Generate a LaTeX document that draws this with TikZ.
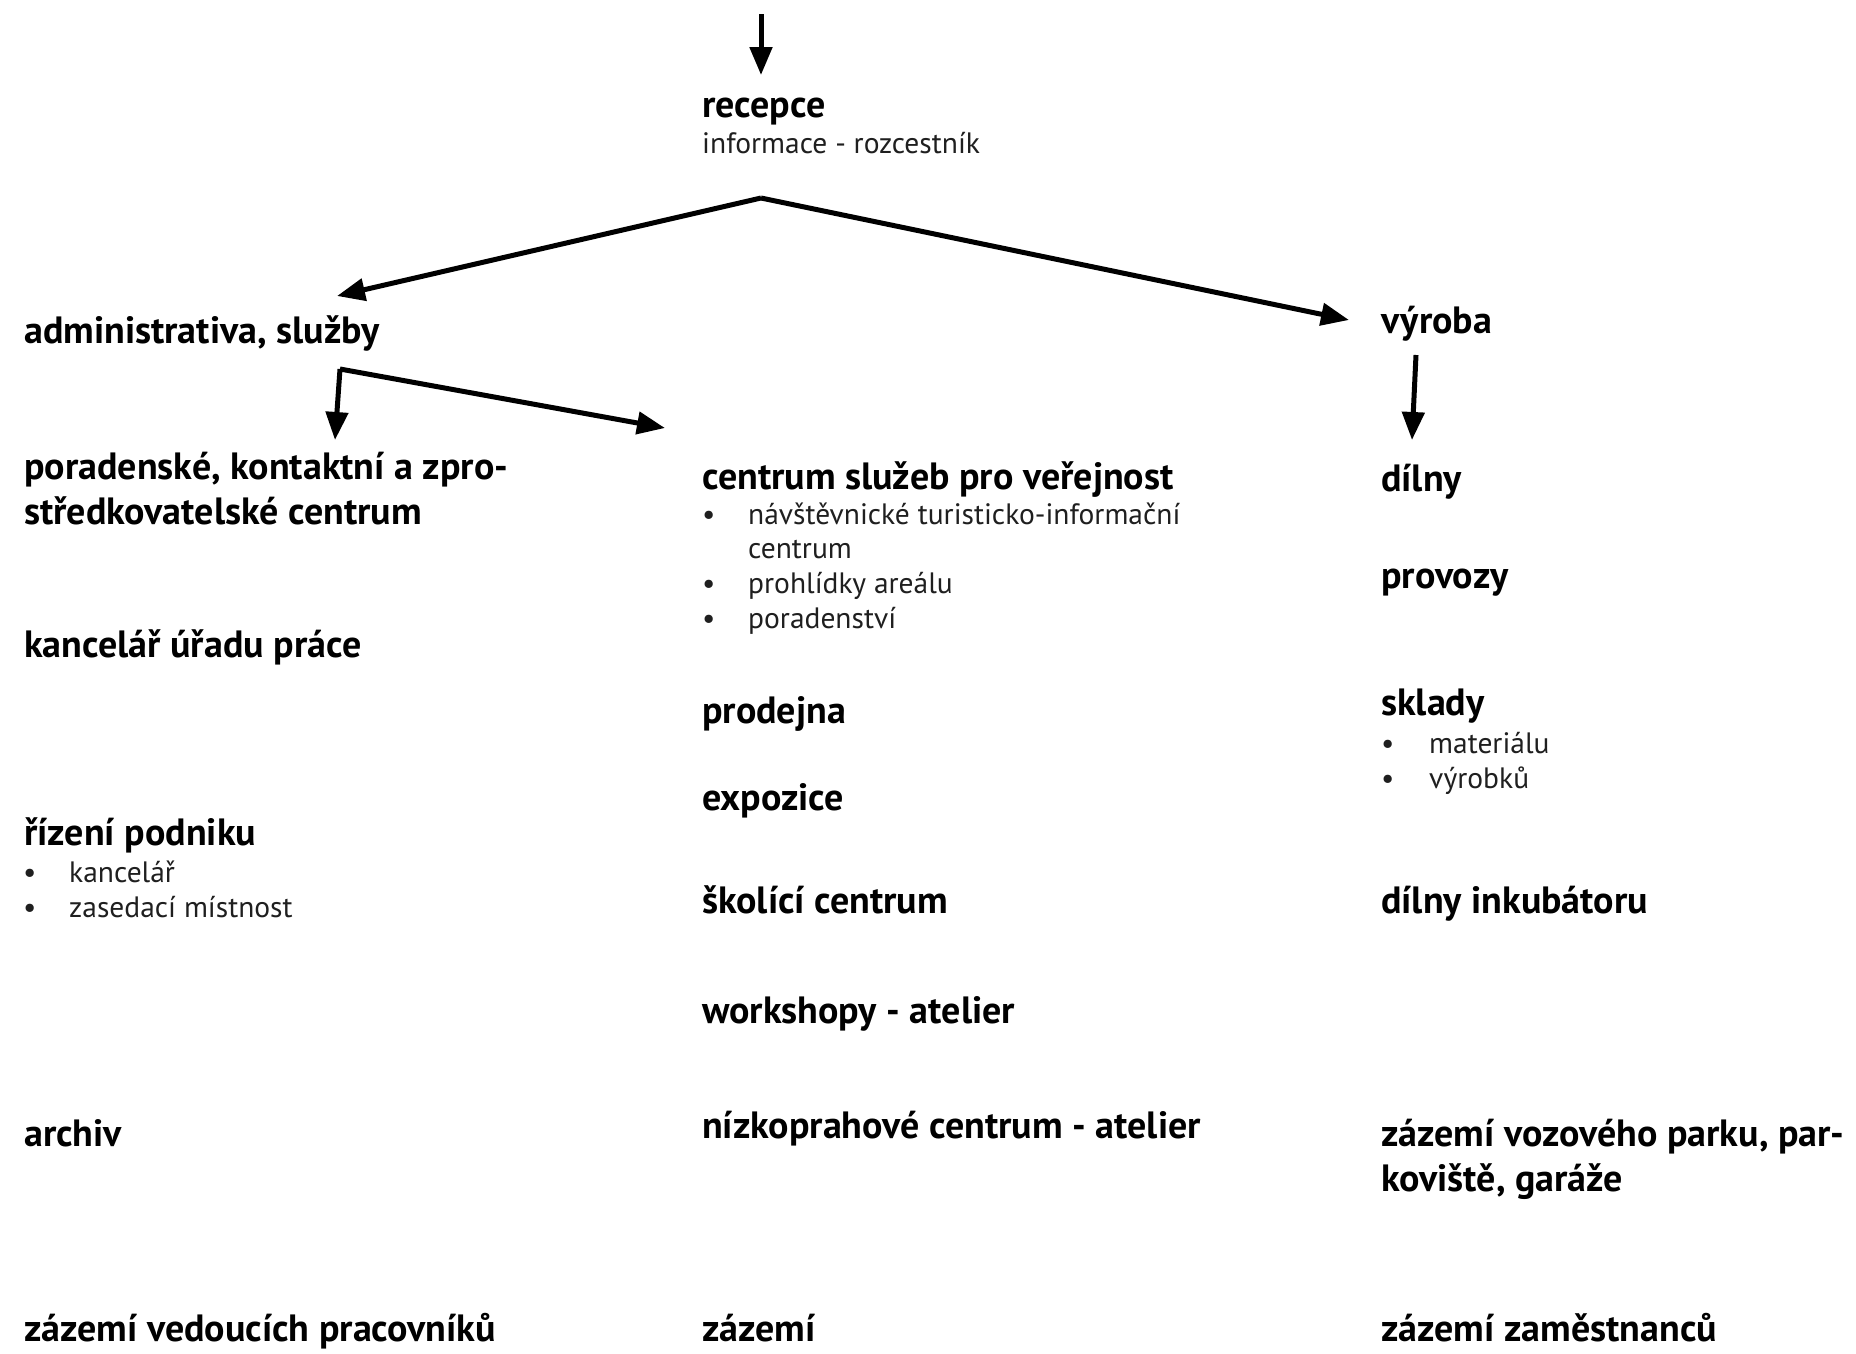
\documentclass[tikz,border=0pt]{standalone}
\usepackage{fontspec}
\setmainfont{PT Sans}
\usetikzlibrary{arrows.meta}
\begin{document}
\begin{tikzpicture}[x=1pt,y=-1pt,
  head/.style={anchor=base west,inner sep=0pt,font=\fontsize{38}{44}\selectfont\bfseries,text=black},
  body/.style={anchor=base west,inner sep=0pt,font=\fontsize{29.5}{34}\selectfont,text=black!88},
  bul/.style={anchor=base west,inner sep=0pt,font=\fontsize{29.5}{34}\selectfont,text=black!88},
  arr/.style={line width=5pt,-{Triangle[length=28pt,width=22pt]}},
  ]
\useasboundingbox (0,0) rectangle (1856,1353);
% coordinates
\coordinate (topstart) at (761,14);
\coordinate (topend) at (761,75);
\coordinate (apex) at (761,198);
\coordinate (admtip) at (337,296);
\coordinate (vyrtip) at (1349,320);
\coordinate (admapex) at (340,369);
\coordinate (poradtip) at (335,440);
\coordinate (centtip) at (665,428);
\coordinate (vyrstart) at (1416,355);
\coordinate (dilnytip) at (1412,440);
% column 1
\node[head] (admin) at (24,343) {administrativa, služby};
\node[head] (porad1) at (24,479) {poradenské, kontaktní a zpro-};
\node[head] (porad2) at (24,524) {středkovatelské centrum};
\node[head] (kanc) at (24,657) {kancelář úřadu práce};
\node[head] (rizeni) at (24,845) {řízení podniku};
\node[bul] (rb1) at (23,882) {•};
\node[body] (rt1) at (69,882) {kancelář};
\node[bul] (rb2) at (23,917) {•};
\node[body] (rt2) at (69,917) {zasedací místnost};
\node[head] (archiv) at (24,1146) {archiv};
\node[head] (zazved) at (24,1341) {zázemí vedoucích pracovníků};
% column 2
\node[head] (recepce) at (702,117) {recepce};
\node[body] (info) at (702,153) {informace - rozcestník};
\node[head] (centrum) at (702,489) {centrum služeb pro veřejnost};
\node[bul] (cb1) at (702,524) {•};
\node[body] (ct1) at (748,524) {návštěvnické turisticko-informační};
\node[body] (ct1b) at (748,558) {centrum};
\node[bul] (cb2) at (702,593) {•};
\node[body] (ct2) at (748,593) {prohlídky areálu};
\node[bul] (cb3) at (702,628) {•};
\node[body] (ct3) at (748,628) {poradenství};
\node[head] (prodejna) at (702,723) {prodejna};
\node[head] (expozice) at (702,810) {expozice};
\node[head] (skoli) at (702,913) {školící centrum};
\node[head] (workshopy) at (702,1023) {workshopy - atelier};
\node[head] (nizko) at (702,1138) {nízkoprahové centrum - atelier};
\node[head] (zazemi) at (702,1341) {zázemí};
% column 3
\node[head] (vyroba) at (1381,333) {výroba};
\node[head] (dilny) at (1381,491) {dílny};
\node[head] (provozy) at (1381,588) {provozy};
\node[head] (sklady) at (1381,715) {sklady};
\node[bul] (sb1) at (1381,753) {•};
\node[body] (st1) at (1429,753) {materiálu};
\node[bul] (sb2) at (1381,788) {•};
\node[body] (st2) at (1429,788) {výrobků};
\node[head] (inkub) at (1381,913) {dílny inkubátoru};
\node[head] (vozy1) at (1381,1146) {zázemí vozového parku, par-};
\node[head] (vozy2) at (1381,1191) {koviště, garáže};
\node[head] (zazzam) at (1381,1341) {zázemí zaměstnanců};
% connectors
\draw[arr] (topstart) -- (topend);
\draw[arr] (apex) -- (admtip);
\draw[arr] (apex) -- (vyrtip);
\draw[arr] (admapex) -- (poradtip);
\draw[arr] (admapex) -- (centtip);
\draw[arr] (vyrstart) -- (dilnytip);
\end{tikzpicture}
\end{document}
